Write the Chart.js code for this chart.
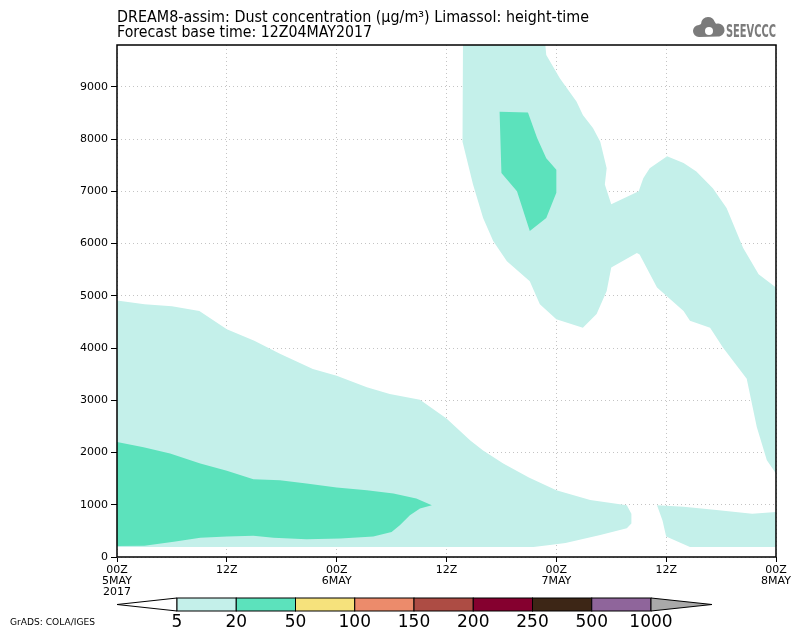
<!DOCTYPE html>
<html>
<head>
<meta charset="utf-8">
<title>DREAM8-assim dust concentration, Limassol</title>
<script src="https://cdn.jsdelivr.net/npm/chart.js@4.4.1/dist/chart.umd.min.js"></script>
<style>
    html, body { margin: 0; padding: 0; background: #fff; }
    #wrap { width: 800px; height: 641px; }
</style>
</head>
<body>
<div id="wrap"><canvas id="chart" width="800" height="641"></canvas></div>
<script>
const titleLines = [
    'DREAM8-assim: Dust concentration (\u03bcg/m\u00b3) Limassol: height-time',
    'Forecast base time: 12Z04MAY2017'
];

// axes: hours since 00Z 5MAY 2017, height in metres
const yTickValues = [0, 1000, 2000, 3000, 4000, 5000, 6000, 7000, 8000, 9000];
const xTickHours = [0, 12, 24, 36, 48, 60, 72];
const xTickLabels = [['00Z', '5MAY', '2017'], '12Z', ['00Z', '6MAY'], '12Z', ['00Z', '7MAY'], '12Z', ['00Z', '8MAY']];

const legendLevels = ['5', '20', '50', '100', '150', '200', '250', '500', '1000'];
const legendColors = ['#c4f0ea', '#5ce2bc', '#f6e27c', '#ec8b6b', '#ad4c44', '#85002f', '#3d2616', '#8f659b'];
const legendOverColor = '#a9a9a9';

// contour areas, [hour, metres]
const lowLayer5 = [
    [0, 4910], [3, 4840], [6, 4800], [9, 4710], [12, 4360], [15, 4140], [17.8, 3890], [21.4, 3600],
    [24, 3470], [27.3, 3250], [29.8, 3120], [33.1, 3010], [36, 2650], [38.6, 2230], [40, 2040],
    [42.2, 1790], [45, 1520], [48, 1280], [51.7, 1090], [55.7, 990], [56.2, 830], [56.2, 640],
    [55.7, 550], [52.8, 420], [49, 270], [47.3, 230], [45.5, 190], [0, 190]
];
const lowLayer20 = [
    [0, 2200], [2.9, 2100], [5.8, 1980], [9.1, 1790], [12, 1650], [14.9, 1490], [17.8, 1470],
    [20.7, 1405], [24, 1330], [27.3, 1280], [30.2, 1215], [32.7, 1120], [34.4, 990], [33.1, 930],
    [32, 800], [30.9, 610], [30, 480], [28, 390], [24.4, 355], [20.7, 340], [17.1, 370], [14.9, 405],
    [12, 390], [9.1, 370], [6.2, 290], [3, 215], [0, 210]
];
const upperPlume5 = [
    [37.8, 9800], [37.7, 9220], [37.8, 7950], [38.9, 7130], [40, 6490], [41.1, 6050], [42.6, 5660],
    [45.1, 5280], [46.2, 4840], [48, 4550], [50.9, 4390], [52.4, 4650], [53.5, 5090], [54, 5540],
    [56.8, 5820], [57.1, 5790], [59, 5160], [61.9, 4710], [62.6, 4520], [64.8, 4390], [66.2, 4010],
    [68.8, 3410], [69.9, 2490], [71, 1850], [72, 1600], [72, 5160], [70.1, 5410], [68.4, 5920],
    [66.6, 6680], [65.1, 7060], [63.3, 7380], [61.9, 7540], [60.1, 7670], [58.2, 7440], [57.5, 7250],
    [57, 7000], [54, 6750], [53.3, 7130], [53.5, 7440], [52.8, 7950], [52, 8210], [50.9, 8460],
    [50.2, 8720], [48.4, 9160], [46.9, 9610], [46.8, 9800]
];
const upperPlume20 = [
    [41.8, 8520], [44.9, 8510], [45.9, 8020], [46.9, 7630], [48, 7410], [48, 6970], [46.9, 6490],
    [45.1, 6240], [43.7, 7000], [42, 7350]
];
const surface5 = [
    [59, 990], [61.9, 960], [65.5, 900], [69.4, 830], [72, 860], [72, 190], [62.6, 190], [60, 390],
    [59.6, 700]
];

function area(points, color, order) {
    return {
        data: points.map(([x, y]) => ({x, y})),
        backgroundColor: color,
        borderWidth: 0,
        pointRadius: 0,
        tension: 0,
        fill: 'shape',
        order
    };
}

function fitText(ctx, text, x, y, width) {
    const w = ctx.measureText(text).width;
    ctx.save();
    ctx.translate(x, y);
    ctx.scale(width / w, 1);
    ctx.fillText(text, 0, 0);
    ctx.restore();
}

const decorations = {
    id: 'decorations',
    afterDraw(chart) {
        const {ctx, chartArea: a} = chart;
        ctx.save();
        // frame round the plot
        ctx.strokeStyle = '#000';
        ctx.lineWidth = 1.5;
        ctx.strokeRect(a.left, a.top, a.right - a.left, a.bottom - a.top);

        // title
        ctx.fillStyle = '#000';
        ctx.textAlign = 'left';
        ctx.textBaseline = 'alphabetic';
        ctx.font = '15px "DejaVu Sans"';
        fitText(ctx, titleLines[0], 117, 22, 472);
        fitText(ctx, titleLines[1], 117, 37, 255);

        // logo
        ctx.fillStyle = '#7b7b7b';
        ctx.beginPath();
        ctx.arc(699, 31, 6, Math.PI * 0.5, Math.PI * 1.5);
        ctx.arc(708, 24, 7, Math.PI, Math.PI * 1.9);
        ctx.arc(718, 30, 6.5, Math.PI * 1.4, Math.PI * 0.5);
        ctx.closePath();
        ctx.fill();
        ctx.fillStyle = '#fff';
        ctx.beginPath();
        ctx.arc(709, 31, 4, 0, Math.PI * 2);
        ctx.fill();
        ctx.fillStyle = '#7b7b7b';
        ctx.font = 'bold 17px "DejaVu Sans"';
        fitText(ctx, 'SEEVCCC', 726, 37, 50);

        // colour bar
        const barTop = 598, barBottom = 611, barLeft = 177, barRight = 651;
        const mid = (barTop + barBottom) / 2;
        const step = (barRight - barLeft) / legendColors.length;
        ctx.lineWidth = 1;
        ctx.strokeStyle = '#000';
        ctx.fillStyle = '#fff';
        ctx.beginPath();
        ctx.moveTo(barLeft, barTop);
        ctx.lineTo(117, mid);
        ctx.lineTo(barLeft, barBottom);
        ctx.closePath();
        ctx.fill();
        ctx.stroke();
        legendColors.forEach((c, i) => {
            ctx.fillStyle = c;
            ctx.fillRect(barLeft + i * step, barTop, step, barBottom - barTop);
            ctx.strokeRect(barLeft + i * step, barTop, step, barBottom - barTop);
        });
        ctx.fillStyle = legendOverColor;
        ctx.beginPath();
        ctx.moveTo(barRight, barTop);
        ctx.lineTo(712, mid);
        ctx.lineTo(barRight, barBottom);
        ctx.closePath();
        ctx.fill();
        ctx.stroke();

        ctx.fillStyle = '#000';
        ctx.font = '17px "DejaVu Sans"';
        ctx.textAlign = 'center';
        ctx.textBaseline = 'middle';
        legendLevels.forEach((t, i) => ctx.fillText(t, barLeft + i * step, 623));

        ctx.textAlign = 'left';
        ctx.font = '9px "DejaVu Sans"';
        fitText(ctx, 'GrADS: COLA/IGES', 10, 623, 85);
        ctx.restore();
    }
};

const tickFont = {family: '"DejaVu Sans"', size: 11, lineHeight: 1.0};

new Chart(document.getElementById('chart'), {
    type: 'line',
    data: {
        datasets: [
            area(upperPlume20, legendColors[1], 1),
            area(lowLayer20, legendColors[1], 1),
            area(upperPlume5, legendColors[0], 2),
            area(lowLayer5, legendColors[0], 2),
            area(surface5, legendColors[0], 2)
        ]
    },
    options: {
        responsive: false,
        animation: false,
        devicePixelRatio: 1,
        layout: {padding: {left: 0, right: 24, top: 45, bottom: 0}},
        plugins: {legend: {display: false}, tooltip: {enabled: false}},
        scales: {
            x: {
                type: 'linear',
                min: 0,
                max: 72,
                z: 1,
                afterFit: s => { s.height = 84; },
                afterBuildTicks: s => { s.ticks = xTickHours.map(v => ({value: v})); },
                grid: {color: '#c4c4c4', tickColor: '#000', tickLength: 5, tickWidth: 1},
                border: {display: false, dash: [1, 3]},
                ticks: {
                    color: '#000',
                    font: tickFont,
                    padding: 3,
                    maxRotation: 0,
                    autoSkip: false,
                    callback: (v) => xTickLabels[xTickHours.indexOf(v)]
                }
            },
            y: {
                type: 'linear',
                min: 0,
                max: 9800,
                z: 1,
                afterFit: s => { s.width = 117; },
                afterBuildTicks: s => { s.ticks = yTickValues.map(v => ({value: v})); },
                grid: {color: '#c4c4c4', tickColor: '#000', tickLength: 6, tickWidth: 1},
                border: {display: false, dash: [1, 3]},
                ticks: {color: '#000', font: tickFont, padding: 3, callback: (v) => String(v)}
            }
        }
    },
    plugins: [decorations]
});
</script>
</body>
</html>
